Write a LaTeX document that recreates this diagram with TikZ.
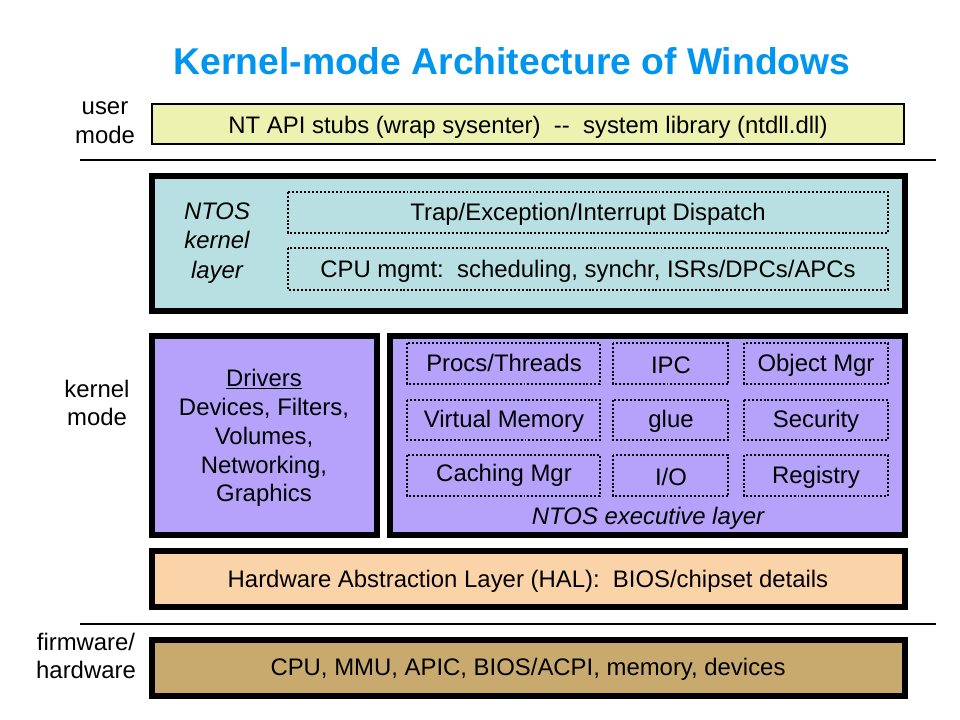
\documentclass[tikz,border=0pt]{standalone}
\usepackage{fontspec}
\setmainfont{Liberation Sans}
\definecolor{titleblue}{RGB}{0,150,240}
\definecolor{userfill}{RGB}{238,242,176}
\definecolor{kernfill}{RGB}{184,223,226}
\definecolor{execfill}{RGB}{182,162,250}
\definecolor{halfill}{RGB}{251,211,168}
\definecolor{hwfill}{RGB}{200,170,110}
\tikzset{
  layer/.style={line width=4pt},
  part/.style={line width=2pt, dash pattern=on 1.4pt off 1.4pt},
  side/.style={align=center, font=\fontsize{17}{20.5}\selectfont},
}
\begin{document}
\begin{tikzpicture}[every node/.style={font=\fontsize{17}{20.5}\selectfont}, x=0.025cm, y=-0.025cm]
\useasboundingbox (0,0) rectangle (960,720);

% title
\node[font=\bfseries\fontsize{26.5}{30}\selectfont, text=titleblue] (title) at (512,61) {Kernel-mode Architecture of Windows};

% user mode
\draw[fill=userfill, line width=0.8pt] (152,104) rectangle (904,144);
\node (ntapi) at (528,127) {NT API stubs (wrap sysenter)\ \ -{}-\ \ system library (ntdll.dll)};
\node[side] (usermode) at (105,123) {user\\mode};
\draw[line width=1.6pt] (80,160) -- (936,160);

% NTOS kernel layer
\draw[layer, fill=kernfill] (152,176) rectangle (905,311);
\node[side, font=\itshape\fontsize{17}{21}\selectfont] (kernlabel) at (217,243) {NTOS\\kernel\\layer};
\draw[part] (288,192) rectangle (888,233);
\node (trap) at (588,214) {Trap/Exception/Interrupt Dispatch};
\draw[part] (288,248) rectangle (888,290);
\node (cpu) at (588,271) {CPU mgmt:\ \ scheduling, synchr, ISRs/DPCs/APCs};

% drivers
\draw[layer, fill=execfill] (152,336) rectangle (377,535);
\node[side] (drivers) at (264,438) {\underline{Drivers}\\Devices, Filters,\\Volumes,\\Networking,\\Graphics};

% NTOS executive layer
\draw[layer, fill=execfill] (390,336) rectangle (905,535);
\draw[part] (407,343) rectangle (600,384);
\node (procs) at (504,363) {Procs/Threads};
\draw[part] (613,343) rectangle (728,384);
\node (ipc) at (671,365) {IPC};
\draw[part] (744,343) rectangle (888,384);
\node (objmgr) at (816,365) {Object Mgr};
\draw[part] (407,400) rectangle (600,440);
\node (vmem) at (504,421) {Virtual Memory};
\draw[part] (613,400) rectangle (728,440);
\node (glue) at (671,421) {glue};
\draw[part] (744,400) rectangle (888,440);
\node (security) at (816,421) {Security};
\draw[part] (407,455) rectangle (600,496);
\node (cache) at (504,475) {Caching Mgr};
\draw[part] (613,455) rectangle (728,496);
\node (io) at (671,477) {I/O};
\draw[part] (744,455) rectangle (888,496);
\node (registry) at (816,477) {Registry};
\node[font=\itshape\fontsize{17}{20.5}\selectfont] (execlabel) at (648,518) {NTOS executive layer};
\node[side] (kernmode) at (97,403) {kernel\\mode};

% HAL
\draw[layer, fill=halfill] (152,551) rectangle (905,607);
\node (hal) at (528,581) {Hardware Abstraction Layer (HAL):\ \ BIOS/chipset details};
\draw[line width=1.6pt] (80,624) -- (936,624);

% hardware
\draw[layer, fill=hwfill] (152,640) rectangle (905,696);
\node (hw) at (528,669) {CPU, MMU, APIC, BIOS/ACPI, memory, devices};
\node[side] (fwlabel) at (86,656) {firmware/\\hardware};

\end{tikzpicture}
\end{document}
